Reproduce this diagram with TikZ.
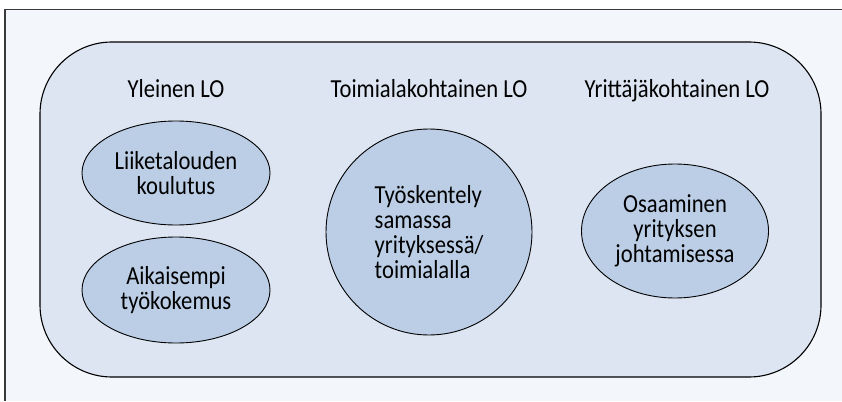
\documentclass[tikz,border=0pt]{standalone}
\usepackage{fontspec}
\setmainfont{Carlito}[FakeStretch=0.87]
\usetikzlibrary{shapes.geometric}
\definecolor{pagebg}{HTML}{F3F6FB}
\definecolor{panelbg}{HTML}{DDE5F2}
\definecolor{ellfill}{HTML}{BBCEE6}
\definecolor{frameline}{HTML}{3A3A3A}
\tikzset{
  heading/.style={anchor=base, font=\fontsize{26}{25}\selectfont, inner sep=0pt},
  blob/.style={ellipse, draw=black, line width=0.9pt, fill=ellfill, inner sep=0pt,
    align=center, font=\fontsize{26}{25}\selectfont},
}
\begin{document}
\begin{tikzpicture}[x=1pt,y=-1pt]
\useasboundingbox (0,0) rectangle (842,401);
\fill[pagebg] (5,9) rectangle (842,401);
\draw[frameline, line width=1.6pt] (5,401) -- (5,9.5) -- (842,9.5);
\draw[black, line width=1.1pt, fill=panelbg, rounded corners=72pt] (40,42) rectangle (821,377);
\node[heading] (h1) at (176,98) {Yleinen LO};
\node[heading] (h2) at (429,98) {Toimialakohtainen LO};
\node[heading] (h3) at (677,98) {Yrittäjäkohtainen LO};
\node[blob, minimum width=188pt, minimum height=104pt] (e1) at (176,173) {Liiketalouden\\koulutus};
\node[blob, minimum width=188pt, minimum height=106pt] (e2) at (176,290) {Aikaisempi\\työkokemus};
\node[blob, circle, minimum size=206pt, align=left] (c1) at (429,232) {Työskentely\\samassa\\yrityksessä/\\toimialalla};
\node[blob, minimum width=187pt, minimum height=134pt] (e3) at (675,231) {Osaaminen\\yrityksen\\johtamisessa};
\end{tikzpicture}
\end{document}
